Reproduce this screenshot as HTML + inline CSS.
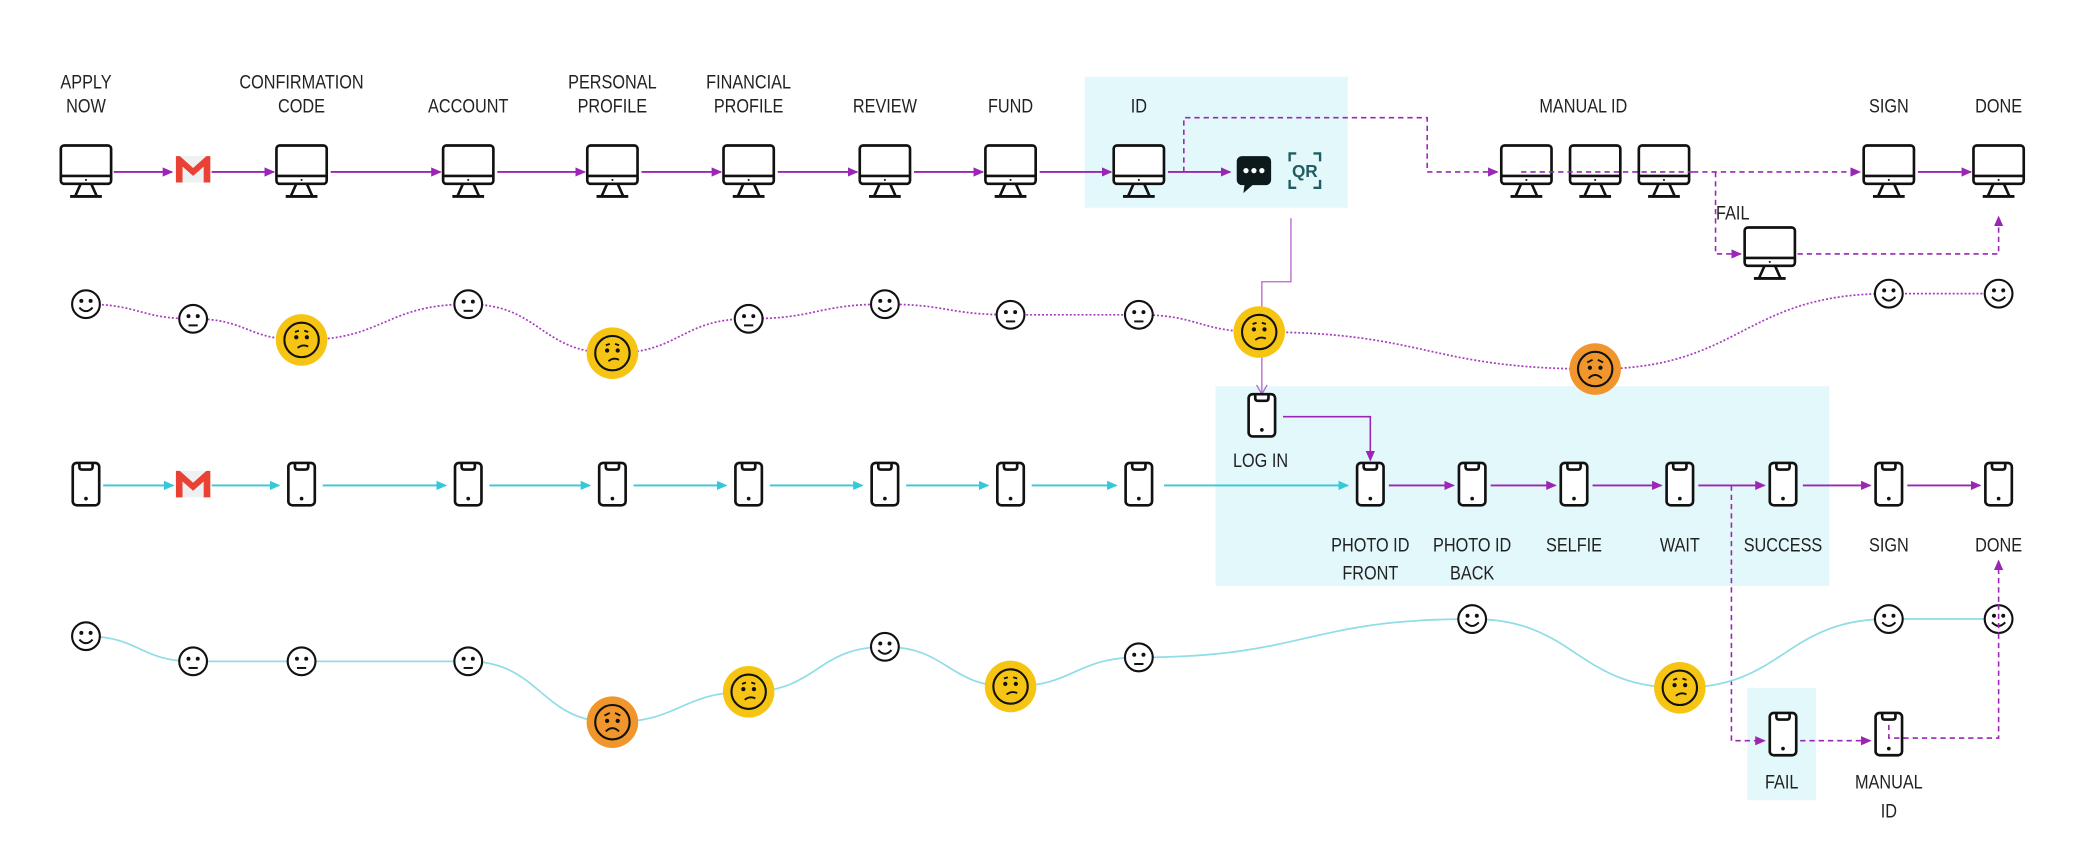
<!DOCTYPE html>
<html><head><meta charset="utf-8">
<style>
html,body{margin:0;padding:0;background:#fff;}
svg{display:block}
text{font-family:"Liberation Sans",sans-serif;font-size:15px;fill:#222;text-anchor:middle}
</style></head>
<body>
<svg width="2074" height="862" viewBox="0 0 1568 651.7" preserveAspectRatio="none" xmlns="http://www.w3.org/2000/svg">
<defs>
<marker id="ap" markerWidth="8" markerHeight="8" refX="7" refY="4" orient="auto" markerUnits="userSpaceOnUse"><path d="M0,0.5 L8,4 L0,7.5z" fill="#9b26b6"/></marker>
<marker id="ac" markerWidth="8" markerHeight="8" refX="7" refY="4" orient="auto" markerUnits="userSpaceOnUse"><path d="M0,0.5 L8,4 L0,7.5z" fill="#33c9d8"/></marker>
<g id="mon" fill="none" stroke="#111" stroke-width="2">
<rect x="-19" y="-18" width="38" height="29" rx="2.5" fill="#fff"/>
<line x1="-19" y1="5" x2="19" y2="5"/>
<path d="M-4,11 L-8,20 M4,11 L8,20"/>
<line x1="-12" y1="20.5" x2="12" y2="20.5" stroke-width="2.2"/>
<circle cx="0" cy="8" r="0.8" fill="#111" stroke="none"/>
</g>
<g id="ph" fill="none" stroke="#111" stroke-width="2">
<rect x="-10" y="-16" width="20" height="32" rx="3" fill="#fff"/>
<path d="M-5,-16 L-5,-13 Q-5,-11 -3,-11 L3,-11 Q5,-11 5,-13 L5,-16"/>
<circle cx="0" cy="11" r="1.4" fill="#111" stroke="none"/>
</g>
<g id="gm">
<rect x="-13" y="-10" width="26" height="20" fill="#eef0f2"/>
<path d="M-13,-10 L-13,10 L-8,10 L-8,-2 L0,5 L8,-2 L8,10 L13,10 L13,-10 L10,-10 L0,-1 L-10,-10z" fill="#e94235"/>
</g>
<g id="happy"><circle r="10.5" fill="#fff" stroke="#111" stroke-width="1.6"/><circle cx="-3.5" cy="-2.5" r="1.5" fill="#111"/><circle cx="3.5" cy="-2.5" r="1.5" fill="#111"/><path d="M-5,2.5 Q0,8 5,2.5" fill="none" stroke="#111" stroke-width="1.5"/></g>
<g id="neut"><circle r="10.5" fill="#fff" stroke="#111" stroke-width="1.6"/><circle cx="-3.5" cy="-2" r="1.5" fill="#111"/><circle cx="3.5" cy="-2" r="1.5" fill="#111"/><line x1="-3.5" y1="5" x2="3.5" y2="5" stroke="#111" stroke-width="1.5"/></g>
<g id="worry"><circle r="19.5" fill="#f6c514"/><circle r="13" fill="none" stroke="#111" stroke-width="1.6"/><circle cx="-4" cy="-2" r="1.6" fill="#111"/><circle cx="4" cy="-2" r="1.6" fill="#111"/><path d="M-5,-6 L-2,-7 M2,-7 L5,-6 M-3,6 Q1,3 5,5" fill="none" stroke="#111" stroke-width="1.4"/></g>
<g id="sad"><circle r="19.5" fill="#f0962c"/><circle r="13" fill="none" stroke="#111" stroke-width="1.6"/><circle cx="-4" cy="-1" r="1.6" fill="#111"/><circle cx="4" cy="-1" r="1.6" fill="#111"/><path d="M-6,-5 L-2,-7 M2,-7 L6,-5 M-5,7 Q0,2 5,7" fill="none" stroke="#111" stroke-width="1.4"/></g>
</defs>

<rect x="820" y="58" width="199" height="99" fill="#e3f8fb"/>
<rect x="919" y="292" width="464" height="151" fill="#e3f8fb"/>
<rect x="1321" y="520" width="52" height="85" fill="#e3f8fb"/>

<g transform="scale(0.82,1)">
<text x="79.3" y="67">APPLY</text><text x="79.3" y="85">NOW</text>
<text x="278" y="67">CONFIRMATION</text><text x="278" y="85">CODE</text>
<text x="431.7" y="85">ACCOUNT</text>
<text x="564.6" y="67">PERSONAL</text><text x="564.6" y="85">PROFILE</text>
<text x="690.2" y="67">FINANCIAL</text><text x="690.2" y="85">PROFILE</text>
<text x="815.9" y="85">REVIEW</text>
<text x="931.7" y="85">FUND</text>
<text x="1050" y="85">ID</text>
<text x="1459.8" y="85">MANUAL ID</text>
<text x="1741.5" y="85">SIGN</text>
<text x="1842.7" y="85">DONE</text>
<text x="1597.6" y="166">FAIL</text>
<text x="1162.2" y="353">LOG IN</text>
<text x="1263.4" y="417">PHOTO ID</text><text x="1263.4" y="438">FRONT</text>
<text x="1357.3" y="417">PHOTO ID</text><text x="1357.3" y="438">BACK</text>
<text x="1451.2" y="417">SELFIE</text>
<text x="1548.8" y="417">WAIT</text>
<text x="1643.9" y="417">SUCCESS</text>
<text x="1741.5" y="417">SIGN</text>
<text x="1842.7" y="417">DONE</text>
<text x="1642.7" y="596">FAIL</text>
<text x="1741.5" y="596">MANUAL</text><text x="1741.5" y="618">ID</text>
</g>

<g stroke="#9b26b6" stroke-width="1.4" fill="none" marker-end="url(#ap)">
<line x1="86" y1="130" x2="130" y2="130"/>
<line x1="160" y1="130" x2="207" y2="130"/>
<line x1="250" y1="130" x2="333" y2="130"/>
<line x1="376" y1="130" x2="442" y2="130"/>
<line x1="485" y1="130" x2="545" y2="130"/>
<line x1="588" y1="130" x2="648" y2="130"/>
<line x1="691" y1="130" x2="743" y2="130"/>
<line x1="786" y1="130" x2="840" y2="130"/>
<line x1="883" y1="130" x2="930" y2="130"/>
<line x1="1450" y1="130" x2="1490" y2="130"/>
</g>
<g stroke="#9b26b6" stroke-width="1.2" fill="none" stroke-dasharray="4,3">
<path d="M895,130 L895,89 L1079,89 L1079,130 L1132,130" marker-end="url(#ap)"/>
<path d="M1280,130 L1406,130" marker-end="url(#ap)"/>
<path d="M1297,130 L1297,192 L1316,192" marker-end="url(#ap)"/>
<path d="M1359,192 L1511,192 L1511,164" marker-end="url(#ap)"/>
</g>
<path d="M976,165 L976,213 L954,213 L954,297" stroke="#b865c9" stroke-width="1" fill="none"/>
<path d="M950,291 L954,298 L958,291" stroke="#b865c9" stroke-width="1" fill="none"/>

<use href="#mon" x="65" y="128"/>
<use href="#gm" x="146" y="128"/>
<use href="#mon" x="228" y="128"/>
<use href="#mon" x="354" y="128"/>
<use href="#mon" x="463" y="128"/>
<use href="#mon" x="566" y="128"/>
<use href="#mon" x="669" y="128"/>
<use href="#mon" x="764" y="128"/>
<use href="#mon" x="861" y="128"/>
<use href="#mon" x="1154" y="128"/>
<use href="#mon" x="1206" y="128"/>
<use href="#mon" x="1258" y="128"/>
<use href="#mon" x="1428" y="128"/>
<use href="#mon" x="1511" y="128"/>
<use href="#mon" x="1338" y="190"/>
<path d="M1150,130 L1280,130" stroke="#9b26b6" stroke-width="1.2" stroke-dasharray="4,3"/>
<rect x="935" y="118" width="26" height="22" rx="4" fill="#0d1a1c"/>
<path d="M941,139 L940,146 L948,139z" fill="#0d1a1c"/>
<circle cx="942" cy="129" r="2" fill="#fff"/><circle cx="948" cy="129" r="2" fill="#fff"/><circle cx="954" cy="129" r="2" fill="#fff"/>
<g stroke="#1f5d63" stroke-width="1.8" fill="none">
<path d="M975,122 L975,116 L980,116 M993,116 L998,116 L998,122 M998,136 L998,142 L993,142 M980,142 L975,142 L975,136"/>
</g>
<text x="986.5" y="134" style="font-size:13px;fill:#1f5d63;font-weight:bold">QR</text>

<path d="M65,230 C105.5,230 105.5,241 146,241 C187,241 187,257 228,257 C291,257 291,230 354,230 C408.5,230 408.5,267 463,267 C514.5,267 514.5,241 566,241 C617.5,241 617.5,230 669,230 C716.5,230 716.5,238 764,238 C812.5,238 812.5,238 861,238 C906.5,238 906.5,251 952,251 C1079,251 1079,279 1206,279 C1317,279 1317,222 1428,222 L1511,222" fill="none" stroke="#a83cc0" stroke-width="1.3" stroke-dasharray="1.5,1.5"/>
<use href="#happy" x="65" y="230"/>
<use href="#neut" x="146" y="241"/>
<use href="#worry" x="228" y="257"/>
<use href="#neut" x="354" y="230"/>
<use href="#worry" x="463" y="267"/>
<use href="#neut" x="566" y="241"/>
<use href="#happy" x="669" y="230"/>
<use href="#neut" x="764" y="238"/>
<use href="#neut" x="861" y="238"/>
<use href="#worry" x="952" y="251"/>
<use href="#sad" x="1206" y="279"/>
<use href="#happy" x="1428" y="222"/>
<use href="#happy" x="1511" y="222"/>

<g stroke="#33c9d8" stroke-width="1.4" fill="none" marker-end="url(#ac)">
<line x1="78" y1="367" x2="131" y2="367"/>
<line x1="160" y1="367" x2="211" y2="367"/>
<line x1="244" y1="367" x2="337" y2="367"/>
<line x1="370" y1="367" x2="446" y2="367"/>
<line x1="479" y1="367" x2="549" y2="367"/>
<line x1="582" y1="367" x2="652" y2="367"/>
<line x1="685" y1="367" x2="747" y2="367"/>
<line x1="780" y1="367" x2="844" y2="367"/>
<line x1="880" y1="367" x2="1019" y2="367"/>
</g>
<g stroke="#9b26b6" stroke-width="1.4" fill="none" marker-end="url(#ap)">
<line x1="1050" y1="367" x2="1099" y2="367"/>
<line x1="1127" y1="367" x2="1176" y2="367"/>
<line x1="1204" y1="367" x2="1256" y2="367"/>
<line x1="1284" y1="367" x2="1334" y2="367"/>
<line x1="1363" y1="367" x2="1414" y2="367"/>
<line x1="1442" y1="367" x2="1497" y2="367"/>
</g>
<path d="M970,315 L1036,315 L1036,348" stroke="#9b26b6" stroke-width="1.2" fill="none" marker-end="url(#ap)"/>
<g stroke="#9b26b6" stroke-width="1.2" fill="none" stroke-dasharray="4,3">
<path d="M1309,367 L1309,560 L1334,560" marker-end="url(#ap)"/>
<path d="M1361,560 L1414,560" marker-end="url(#ap)"/>
<path d="M1428,548 L1428,558 L1511,558 L1511,424" marker-end="url(#ap)"/>
</g>

<use href="#ph" x="65" y="366"/>
<use href="#gm" x="146" y="366"/>
<use href="#ph" x="228" y="366"/>
<use href="#ph" x="354" y="366"/>
<use href="#ph" x="463" y="366"/>
<use href="#ph" x="566" y="366"/>
<use href="#ph" x="669" y="366"/>
<use href="#ph" x="764" y="366"/>
<use href="#ph" x="861" y="366"/>
<use href="#ph" x="954" y="314"/>
<use href="#ph" x="1036" y="366"/>
<use href="#ph" x="1113" y="366"/>
<use href="#ph" x="1190" y="366"/>
<use href="#ph" x="1270" y="366"/>
<use href="#ph" x="1348" y="366"/>
<use href="#ph" x="1428" y="366"/>
<use href="#ph" x="1511" y="366"/>
<use href="#ph" x="1348" y="555"/>
<use href="#ph" x="1428" y="555"/>
<path d="M1428,548 L1428,558 L1440,558" stroke="#9b26b6" stroke-width="1.2" fill="none" stroke-dasharray="4,3"/>

<path d="M65,481 C105.5,481 105.5,500 146,500 L354,500 C408.5,500 408.5,546 463,546 C514.5,546 514.5,523 566,523 C617.5,523 617.5,489 669,489 C716.5,489 716.5,519 764,519 C812.5,519 812.5,497 861,497 C987,497 987,468 1113,468 C1191.5,468 1191.5,520 1270,520 C1349,520 1349,468 1428,468 L1511,468" fill="none" stroke="#8fdde6" stroke-width="1.3"/>
<use href="#happy" x="65" y="481"/>
<use href="#neut" x="146" y="500"/>
<use href="#neut" x="228" y="500"/>
<use href="#neut" x="354" y="500"/>
<use href="#sad" x="463" y="546"/>
<use href="#worry" x="566" y="523"/>
<use href="#happy" x="669" y="489"/>
<use href="#worry" x="764" y="519"/>
<use href="#neut" x="861" y="497"/>
<use href="#happy" x="1113" y="468"/>
<use href="#worry" x="1270" y="520"/>
<use href="#happy" x="1428" y="468"/>
<use href="#happy" x="1511" y="468"/>
<line x1="1511" y1="457" x2="1511" y2="479" stroke="#9b26b6" stroke-width="1.2" stroke-dasharray="4,3"/>
</svg>
</body></html>
